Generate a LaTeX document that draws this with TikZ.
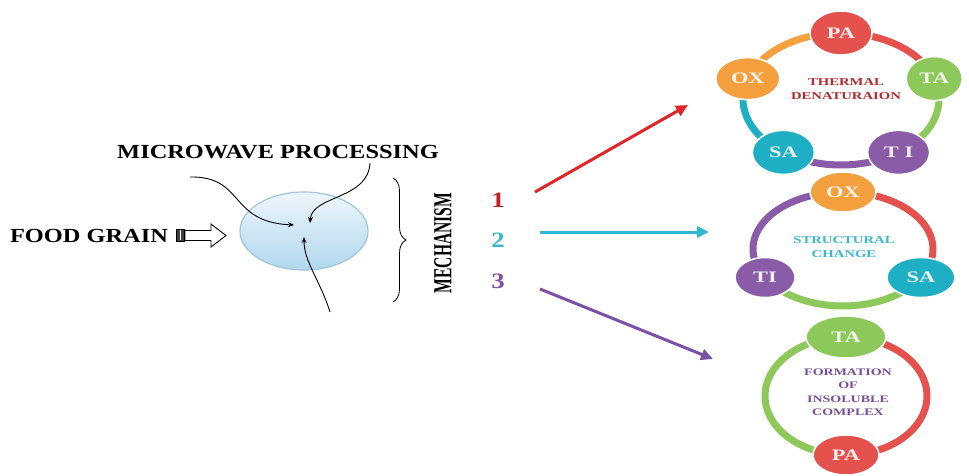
\documentclass[tikz,border=0pt]{standalone}
\usepackage{fontspec}
\setmainfont{Liberation Serif}
\newfontfamily\titlefont[FakeStretch=1.22]{Liberation Serif}
\newfontfamily\ringfont[FakeStretch=1.4]{Liberation Serif}
\newfontfamily\narrowfont[FakeStretch=0.6]{Liberation Serif}
\usetikzlibrary{arrows.meta,shapes.geometric,decorations.pathreplacing,calc}
\definecolor{cred}{HTML}{E5524E}
\definecolor{cgreen}{HTML}{8DC85A}
\definecolor{cpurple}{HTML}{8A5CA8}
\definecolor{cteal}{HTML}{1FAFC4}
\definecolor{corange}{HTML}{F4A03E}
\definecolor{tred}{HTML}{B52A2E}
\definecolor{tcyan}{HTML}{3DB9D2}
\definecolor{tpurple}{HTML}{7A4E9E}
\definecolor{ared}{HTML}{E02428}
\definecolor{acyan}{HTML}{2FB8D6}
\definecolor{apurple}{HTML}{7B50A6}
\definecolor{ncyan}{HTML}{35B8C8}
\definecolor{npurple}{HTML}{8450A4}
\tikzset{
  bigtext/.style={font=\titlefont\bfseries\fontsize{20}{24}\selectfont, inner sep=0pt},
  numtext/.style={font=\titlefont\bfseries\fontsize{22}{24}\selectfont, inner sep=0pt},
  ringtext/.style={font=\ringfont\bfseries\fontsize{10.5}{14}\selectfont, align=center, inner sep=0pt},
  bub/.style={ellipse, fill=#1, draw=white, line width=1.5pt, inner sep=0pt,
    text=white!90!#1, font=\ringfont\bfseries\fontsize{16}{16}\selectfont},
  ring/.style={line width=7pt, #1},
  bigarrow/.style={line width=3pt, -{Triangle[length=12pt,width=11pt]}},
  thinarrow/.style={line width=0.9pt, -{Stealth[length=6pt,width=5pt]}},
}
\newcommand{\ringpt}[1]{({\cx+\rx*cos(#1)},{\cy+\ry*sin(#1)})}
\begin{document}
\begin{tikzpicture}[x=1pt,y=-1pt]
\useasboundingbox (0,0) rectangle (969,475);
\fill[white] (0,0) rectangle (969,475);

% left part
\node[bigtext] (food) at (89,236) {FOOD GRAIN};
\node[bigtext] (mw) at (278,152) {MICROWAVE PROCESSING};
\draw[line width=0.8pt, fill=black!75] (176,229) rectangle (184,241);
\draw[white, line width=0.8pt] (180.5,230) -- (180.5,240);
\draw[line width=0.9pt, fill=white] (185,230.5) -- (211,230.5) -- (211,224) -- (226,235.5)
  -- (211,247) -- (211,240.5) -- (185,240.5) -- cycle;

\node[ellipse, minimum width=128pt, minimum height=78pt, draw={rgb,255:red,160;green,196;blue,218},
  line width=1.2pt, top color={rgb,255:red,238;green,246;blue,251},
  bottom color={rgb,255:red,176;green,216;blue,238}] (grain) at (304,231) {};

\coordinate (s1) at (190,177);
\coordinate (e1) at (294,225);
\coordinate (s2) at (370,163);
\coordinate (e2) at (310,223);
\coordinate (s3) at (330,312);
\coordinate (e3) at (304,237);
\draw[thinarrow] (s1) .. controls (245,176) and (228,222) .. (e1);
\draw[thinarrow] (s2) .. controls (368,200) and (312,195) .. (e2);
\draw[thinarrow] (s3) .. controls (320,280) and (304,262) .. (e3);

\coordinate (bt) at (393,178);
\coordinate (bb) at (393,302);
\draw[line width=0.8pt, decorate, decoration={brace, amplitude=13pt}] (bt) -- (bb);
\node[rotate=90, font=\narrowfont\bfseries\fontsize{26}{26}\selectfont, inner sep=0pt] (mech) at (443,243) {MECHANISM};

\node[numtext, text=ared!85!black] (n1) at (498,200) {1};
\node[numtext, text=ncyan] (n2) at (498,240) {2};
\node[numtext, text=npurple] (n3) at (498,281) {3};

\coordinate (a1s) at (535,192);
\coordinate (a1e) at (688,105);
\coordinate (a2s) at (540,232);
\coordinate (a2e) at (709,232);
\coordinate (a3s) at (540,289);
\coordinate (a3e) at (713,359);
\draw[bigarrow, ared] (a1s) -- (a1e);
\draw[bigarrow, acyan] (a2s) -- (a2e);
\draw[bigarrow, apurple] (a3s) -- (a3e);

% cycle 1
\def\cx{841}\def\cy{99}\def\rx{98}\def\ry{66}
\draw[ring=cred] plot[domain=-90:-18, samples=30] ({\cx+\rx*cos(\x)},{\cy+\ry*sin(\x)});
\draw[ring=cgreen] plot[domain=-18:54, samples=30] ({\cx+\rx*cos(\x)},{\cy+\ry*sin(\x)});
\draw[ring=cpurple] plot[domain=54:126, samples=30] ({\cx+\rx*cos(\x)},{\cy+\ry*sin(\x)});
\draw[ring=cteal] plot[domain=126:198, samples=30] ({\cx+\rx*cos(\x)},{\cy+\ry*sin(\x)});
\draw[ring=corange] plot[domain=198:270, samples=30] ({\cx+\rx*cos(\x)},{\cy+\ry*sin(\x)});
\node[bub=cred, minimum width=62pt, minimum height=44pt] (c1pa) at \ringpt{-90} {PA};
\node[bub=cgreen, minimum width=56pt, minimum height=44pt] (c1ta) at \ringpt{-18} {TA};
\node[bub=cpurple, minimum width=62pt, minimum height=44pt] (c1ti) at \ringpt{54} {T I};
\node[bub=cteal, minimum width=62pt, minimum height=44pt] (c1sa) at \ringpt{126} {SA};
\node[bub=corange, minimum width=64pt, minimum height=42pt] (c1ox) at \ringpt{198} {OX};
\node[ringtext, text=tred] (t1) at (846,89) {THERMAL\\DENATURAION};

% cycle 2
\def\cx{843}\def\cy{249}\def\rx{90}\def\ry{57}
\draw[ring=cred] plot[domain=-90:30, samples=40] ({\cx+\rx*cos(\x)},{\cy+\ry*sin(\x)});
\draw[ring=cgreen] plot[domain=30:150, samples=40] ({\cx+\rx*cos(\x)},{\cy+\ry*sin(\x)});
\draw[ring=cpurple] plot[domain=150:270, samples=40] ({\cx+\rx*cos(\x)},{\cy+\ry*sin(\x)});
\node[bub=corange, minimum width=66pt, minimum height=40pt] (c2ox) at \ringpt{-90} {OX};
\node[bub=cteal, minimum width=68pt, minimum height=40pt] (c2sa) at \ringpt{30} {SA};
\node[bub=cpurple, minimum width=60pt, minimum height=40pt] (c2ti) at \ringpt{150} {TI};
\node[ringtext, text=tcyan] (t2) at (844,247) {STRUCTURAL\\CHANGE};

% cycle 3
\def\cx{846}\def\cy{396}\def\rx{81}\def\ry{59}
\draw[ring=cred] plot[domain=-90:90, samples=50] ({\cx+\rx*cos(\x)},{\cy+\ry*sin(\x)});
\draw[ring=cgreen] plot[domain=90:270, samples=50] ({\cx+\rx*cos(\x)},{\cy+\ry*sin(\x)});
\node[bub=cgreen, minimum width=80pt, minimum height=42pt] (c3ta) at \ringpt{-90} {TA};
\node[bub=cred, minimum width=66pt, minimum height=40pt] (c3pa) at \ringpt{90} {PA};
\node[ringtext, text=tpurple, font=\ringfont\bfseries\fontsize{10}{13.5}\selectfont] (t3) at (848,392) {FORMATION\\OF\\INSOLUBLE\\COMPLEX};
\end{tikzpicture}
\end{document}
